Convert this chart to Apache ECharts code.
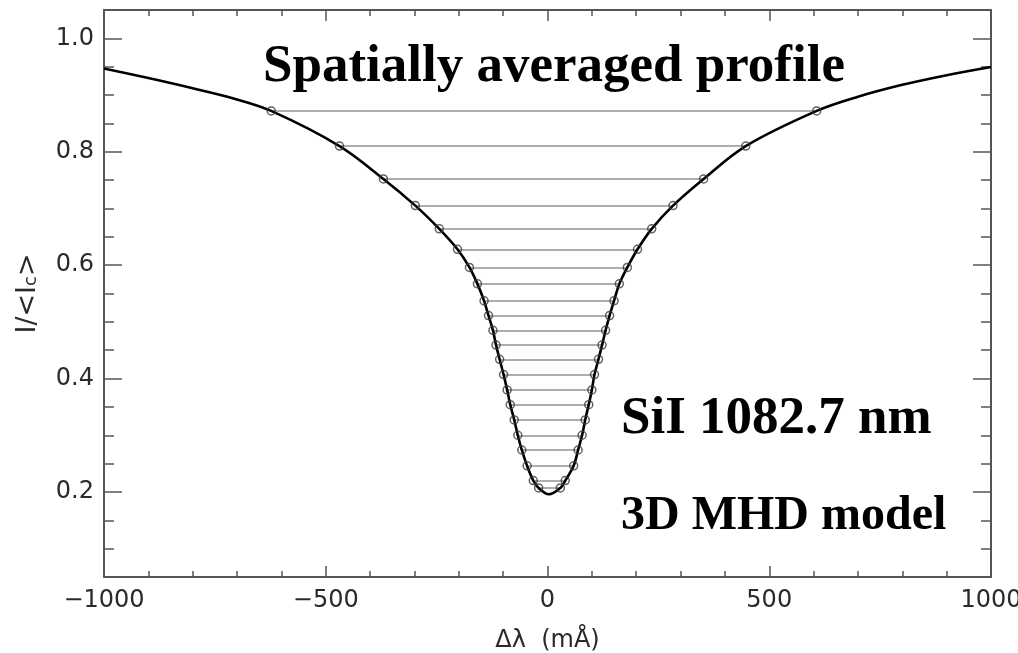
<!DOCTYPE html>
<html><head><meta charset="utf-8">
<script src="https://cdn.jsdelivr.net/npm/echarts@6/dist/echarts.min.js"></script>
<style>html,body{margin:0;padding:0;background:#fff;overflow:hidden}#c{width:1018px;height:653px}</style>
</head><body><div id="c"></div>
<script>
// ---- data ----
const profileX = [-1000, -900, -800, -708, -623, -469, -370, -298, -244, -203, -176, -158, -143, -133, -123, -116, -108, -99, -91, -84, -75, -67, -58, -46, -32, -20, 3, 29, 40, 59, 69, 78, 85, 93, 100, 106, 115, 123, 131, 140, 150, 162, 180, 203, 235, 283, 352, 447, 607, 700, 800, 900, 1000];
const profileY = [0.947, 0.930, 0.912, 0.894, 0.872, 0.810, 0.752, 0.705, 0.664, 0.628, 0.596, 0.567, 0.537, 0.511, 0.485, 0.459, 0.434, 0.407, 0.380, 0.354, 0.327, 0.300, 0.274, 0.246, 0.220, 0.207, 0.196, 0.207, 0.220, 0.246, 0.274, 0.300, 0.327, 0.354, 0.380, 0.407, 0.434, 0.459, 0.485, 0.511, 0.537, 0.567, 0.596, 0.628, 0.664, 0.705, 0.752, 0.810, 0.872, 0.897, 0.918, 0.935, 0.9495];
const levelY = [0.872, 0.810, 0.752, 0.705, 0.664, 0.628, 0.596, 0.567, 0.537, 0.511, 0.485, 0.459, 0.434, 0.407, 0.380, 0.354, 0.327, 0.300, 0.274, 0.246, 0.220, 0.207];
const levelLeftX = [-623, -469, -370, -298, -244, -203, -176, -158, -143, -133, -123, -116, -108, -99, -91, -84, -75, -67, -58, -46, -32, -20];
const levelRightX = [607, 447, 352, 283, 235, 203, 180, 162, 150, 140, 131, 123, 115, 106, 100, 93, 85, 78, 69, 59, 40, 29];
const xRange = [-1000, 1000];
const xTickStep = 500;
const yRange = [0.05, 1.05];
const yMinorStep = 0.05;
const yLabelRange = [0.2, 1.0];
const yTickStep = 0.2;
const titleText = 'Spatially averaged profile';
const lineText = 'SiI 1082.7 nm';
const modelText = '3D MHD model';
const xName = 'Δλ  (mÅ)';

// ---- layout ----
const chart = echarts.init(document.getElementById('c'), null, {renderer: 'canvas'});
const G = {left: 104, right: 27, top: 10, height: 567};
const unit = G.height / (yRange[1] - yRange[0]);
const G2 = {left: G.left, right: G.right, top: G.top + (yRange[1] - yLabelRange[1]) * unit, height: (yLabelRange[1] - yLabelRange[0]) * unit};

const axCol = '#555';
const tickStyle = {color: axCol, width: 1.5};
const labFont = {fontFamily: 'DejaVu Sans', fontSize: 24, color: '#2a2a2a'};

function xAx(pos, showLabel) {
  return {
    type: 'value', gridIndex: 0, position: pos, min: xRange[0], max: xRange[1], interval: xTickStep,
    axisLine: {show: true, onZero: false, lineStyle: {color: axCol, width: 2}},
    axisTick: {show: true, inside: true, length: 11, lineStyle: tickStyle},
    minorTick: {show: true, splitNumber: 5, length: 6, lineStyle: tickStyle},
    splitLine: {show: false}, minorSplitLine: {show: false},
    axisLabel: Object.assign({show: showLabel, margin: 12, showMinLabel: true, showMaxLabel: true,
      formatter: v => v < 0 ? '\u2212' + Math.abs(v) : String(v)}, labFont)
  };
}
function yMinor(pos) {
  return {
    type: 'value', gridIndex: 0, position: pos, min: yRange[0], max: yRange[1], interval: yMinorStep,
    axisLine: {show: true, onZero: false, lineStyle: {color: axCol, width: 2}},
    axisTick: {show: true, inside: true, length: 10, lineStyle: tickStyle},
    axisLabel: {show: false}, splitLine: {show: false}
  };
}
function yMajor(pos, showLabel) {
  return {
    type: 'value', gridIndex: 1, position: pos, min: yLabelRange[0], max: yLabelRange[1], interval: yTickStep,
    axisLine: {show: false, onZero: false},
    axisTick: {show: true, inside: true, length: 18, lineStyle: tickStyle},
    axisLabel: Object.assign({show: showLabel, margin: 10, formatter: v => v.toFixed(1)}, labFont),
    splitLine: {show: false}
  };
}

const xb = xAx('bottom', true);
xb.name = xName;
xb.nameLocation = 'middle';
xb.nameGap = 52;
xb.nameTextStyle = {fontFamily: 'DejaVu Sans', fontSize: 24, color: '#2a2a2a'};

const yl = yMinor('left');
yl.name = '{a|I/<I}{b|c}{a|>}';
yl.nameLocation = 'middle';
yl.nameRotate = 90;
yl.nameGap = 56;
yl.nameTextStyle = {
  rich: {
    a: {fontFamily: 'DejaVu Sans', fontSize: 27, color: '#2a2a2a', padding: [0, 0, 7, 0]},
    b: {fontFamily: 'DejaVu Sans', fontSize: 18, color: '#2a2a2a'}
  }
};

const curve = profileX.map((x, i) => [x, profileY[i]]);
const markers = levelY.map((y, i) => [levelLeftX[i], y]).concat(levelY.map((y, i) => [levelRightX[i], y]));
const hlines = levelY.map((y, i) => ({coords: [[levelLeftX[i], y], [levelRightX[i], y]]}));

const serif = '"Liberation Serif", "Times New Roman", serif';
chart.setOption({
  animation: false,
  backgroundColor: '#fff',
  grid: [
    {left: G.left, right: G.right, top: G.top, height: G.height, containLabel: false, outerBoundsMode: 'none'},
    {left: G2.left, right: G2.right, top: G2.top, height: G2.height, containLabel: false, outerBoundsMode: 'none'}
  ],
  xAxis: [xb, xAx('top', false), {type: 'value', gridIndex: 1, min: xRange[0], max: xRange[1], show: false}],
  yAxis: [yl, yMinor('right'), yMajor('left', true), yMajor('right', false)],
  series: [
    {type: 'lines', coordinateSystem: 'cartesian2d', xAxisIndex: 0, yAxisIndex: 0, data: hlines,
      lineStyle: {color: '#939393', width: 1.5, opacity: 1}, z: 2, silent: true},
    {type: 'line', xAxisIndex: 0, yAxisIndex: 0, data: curve, smooth: 0.35, showSymbol: false,
      lineStyle: {color: '#000', width: 2.6}, z: 3, silent: true},
    {type: 'scatter', xAxisIndex: 0, yAxisIndex: 0, data: markers, symbol: 'circle', symbolSize: 8,
      itemStyle: {color: 'rgba(255,255,255,0)', borderColor: '#3a3a3a', borderWidth: 1.5}, z: 4, silent: true}
  ],
  graphic: [
    {type: 'text', left: 263, top: 41, style: {text: titleText, font: 'bold 53px ' + serif, fill: '#000'}, z: 10},
    {type: 'text', left: 621, top: 393, style: {text: lineText, font: 'bold 53px ' + serif, fill: '#000'}, z: 10},
    {type: 'text', left: 621, top: 493, style: {text: modelText, font: 'bold 48px ' + serif, fill: '#000'}, z: 10}
  ]
});
</script>
</body></html>
